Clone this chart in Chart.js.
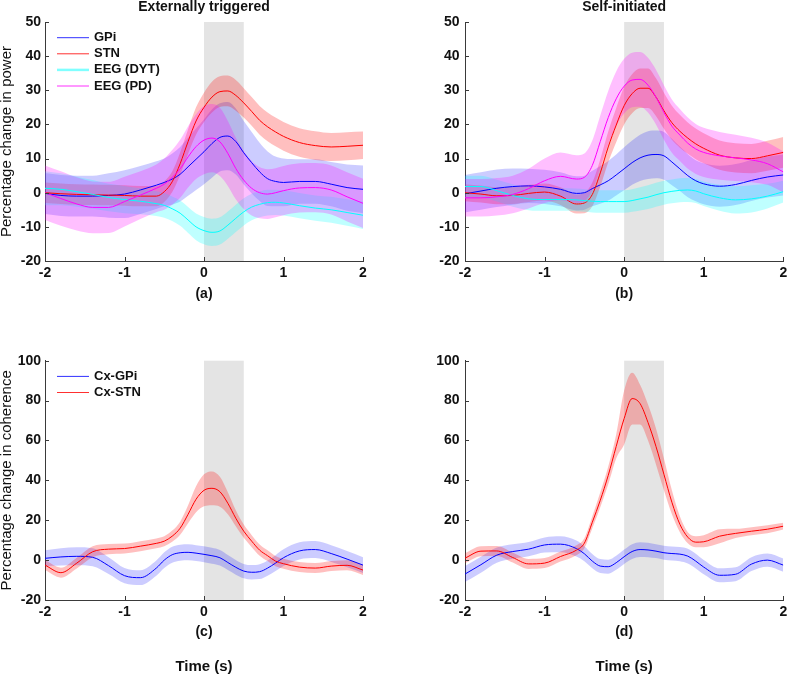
<!DOCTYPE html>
<html><head><meta charset="utf-8">
<script src="https://cdn.jsdelivr.net/npm/chart.js@4.4.0/dist/chart.umd.min.js"></script>
<style>
html,body{margin:0;padding:0;background:#fff;overflow:hidden;width:787px;height:677px;}
canvas{position:absolute;}
</style></head><body>
<canvas id="ca" width="390" height="320" style="left:0;top:0"></canvas>
<canvas id="cb" width="397" height="320" style="left:390px;top:0"></canvas>
<canvas id="cc" width="390" height="357" style="left:0;top:320px"></canvas>
<canvas id="cd" width="397" height="357" style="left:390px;top:320px"></canvas>
<script>
// ---- shared time base (s) ----
const time = [-2,-1.8,-1.6,-1.4,-1.2,-1,-0.8,-0.6,-0.5,-0.4,-0.3,-0.2,-0.1,0,0.1,0.2,0.3,0.4,0.5,0.6,0.7,0.8,0.9,1,1.2,1.4,1.6,1.8,2];
const cueStart = 0, cueEnd = 0.5;
const xTicks = [-2,-1,0,1,2];
const panelTitles = ['Externally triggered','Self-initiated'];
const panelLetters = ['(a)','(b)','(c)','(d)'];
const powerLabels = ['GPi','STN','EEG (DYT)','EEG (PD)'];
const cohLabels = ['Cx-GPi','Cx-STN'];

// ---- (a) Externally triggered, power ----
const aGPiMean  = [-0.2,-0.8,-1.0,-1.0,-0.8,-0.4,0.8,2.2,3.0,4.0,5.4,7.6,9.8,12,14.4,16.2,16.6,15,11.7,8.8,6.1,4.1,3.3,3.0,3.3,3.3,2.5,1.5,1.0];
const aGPiUpper = [5.8,5.2,5.0,5.0,5.7,6.6,7.8,9.2,10,11.5,13.4,16.1,18.8,21.5,24.4,26.2,26.6,24.7,21,17.8,14.6,12.1,10.6,10,9.8,9.8,9,8.3,8];
const aGPiLower = [-6.2,-6.8,-7,-7,-7.3,-7.4,-6.2,-4.8,-4,-3.5,-2.6,-0.9,0.8,2.5,4.4,6.2,6.6,5.3,2.4,-0.2,-2.4,-3.9,-4,-4,-3.2,-3.2,-4,-5.3,-6];
const aSTNMean  = [0,-0.3,-0.5,-0.6,-0.7,-0.8,-1.0,-1.0,0.3,3.2,8.5,15,21,25,28,29.6,29.8,28.5,26.3,23.8,21.2,19.3,17.8,16.5,14.7,13.8,13.4,13.6,13.9];
const aSTNUpper = [3,2.7,2.5,2.4,2.3,2.2,2,2,3.3,6.2,11.8,18.6,25,29.3,32.5,34.1,34.3,33,30.6,28,25.4,23.5,22,20.7,18.9,18,17.5,17.7,17.9];
const aSTNLower = [-3,-3.3,-3.5,-3.6,-3.7,-3.8,-4,-4,-2.7,0.2,5.2,11.4,17,20.7,23.5,25.1,25.3,24,22,19.6,17,15.1,13.6,12.3,10.5,9.6,9.3,9.5,9.9];
const aDYTMean  = [1.3,1,0.3,-0.5,-1.4,-2,-2.5,-3.2,-3.7,-4.7,-6,-8,-10,-11.1,-11.6,-11.2,-9.5,-7.5,-5.6,-4.2,-3.4,-2.9,-2.8,-3.0,-3.8,-4.5,-5,-5.8,-6.6];
const aDYTUpper = [6.3,5.7,4.7,3.7,2.6,2,1.3,0.4,-0.1,-1.1,-2.3,-4.2,-6.1,-7.1,-7.6,-7.2,-5.5,-3.5,-1.6,-0.3,0.4,0.9,0.9,0.7,-0.1,-0.8,-1.2,-1.9,-2.6];
const aDYTLower = [-3.7,-3.7,-4.1,-4.7,-5.4,-6,-6.3,-6.8,-7.3,-8.3,-9.7,-11.8,-13.9,-15.1,-15.6,-15.2,-13.5,-11.5,-9.6,-8.1,-7.2,-6.7,-6.5,-6.7,-7.5,-8.2,-8.8,-9.7,-10.6];
const aPDMean   = [0,-1.7,-3.3,-4.3,-4.3,-2.6,-0.7,1.3,2.5,4.5,7,10.5,13.5,15.4,16,14.9,11.5,7.1,3.7,1.3,0,-0.4,0,0.6,1.4,1.5,0.8,-1.2,-3.1];
const aPDUpper  = [8,6.3,4.5,3.3,3.2,4.7,6.3,8.3,10,12.5,15.5,19.5,23,25.4,26,24.9,21,16.1,12.2,9.3,7.5,6.9,7.2,7.8,8.6,8.7,8,6,4.1];
const aPDLower  = [-8,-9.7,-11.1,-11.9,-11.8,-9.9,-7.7,-5.7,-5,-3.5,-1.5,1.5,4,5.4,6,4.9,2,-1.9,-4.8,-6.7,-7.5,-7.7,-7.2,-6.6,-5.8,-5.7,-6.4,-8.4,-10.3];

// ---- (b) Self-initiated, power ----
const bGPiMean  = [-0.3,0.5,1.3,1.8,2.0,1.7,1.0,-0.2,0,1.2,2.3,3.5,5.2,7,8.8,10.2,11,11.2,10.8,9,7,5,3.5,2.6,1.9,2.4,3.6,4.6,5.2];
const bGPiUpper = [5.2,6,6.8,7.1,7,6.7,6,4.8,5,6.4,7.8,9.3,11.2,13.3,15.3,17,18,18.2,17.8,15.8,13.5,11.3,9.5,8.6,7.9,8.4,9.6,10.6,11.2];
const bGPiLower = [-5.8,-5,-4.2,-3.5,-3,-3.3,-4,-5.2,-5,-4,-3.2,-2.3,-0.8,0.7,2.3,3.4,4,4.2,3.8,2.2,0.5,-1.3,-2.5,-3.4,-4.1,-3.6,-2.4,-1.4,-0.8];
const bSTNMean  = [0,-0.4,-0.9,-0.8,-0.2,0.2,-1.0,-3.3,-3.0,-0.5,5.8,13.4,19.8,25.5,29,30.6,30.6,28,24,20.5,18,16,14.3,13,11,10.2,10,10.8,11.8];
const bSTNUpper = [2.5,2.1,1.6,1.7,2.3,2.7,1.6,-0.5,0,3,9.8,17.9,24.8,31,34.7,36.4,36.4,33.5,29.3,25.5,22.8,20.6,18.8,17.4,15.3,14.5,14.3,15.2,16.3];
const bSTNLower = [-2.5,-2.9,-3.4,-3.3,-2.7,-2.3,-3.6,-6.1,-6,-4,1.8,8.9,14.8,20,23.3,24.8,24.8,22.5,18.7,15.5,13.2,11.4,9.8,8.6,6.7,5.9,5.7,6.4,7.3];
const bDYTMean  = [1.8,1.8,0.6,-0.8,-1.8,-2,-2,-2.1,-2.3,-2.5,-2.6,-2.6,-2.6,-2.6,-2.3,-1.8,-1.3,-0.6,0,0.4,0.7,0.8,0.5,-0.3,-1.5,-2.1,-1.8,-1,0.3];
const bDYTUpper = [5,5,3.8,2.5,1.5,1.3,1.3,1.2,1,0.8,0.7,0.7,0.7,0.7,1,1.6,2.2,2.9,3.5,3.9,4.2,4.3,4,3.3,2.3,1.9,2.2,2.6,3.5];
const bDYTLower = [-1.4,-1.4,-2.6,-4.1,-5.1,-5.3,-5.3,-5.4,-5.6,-5.8,-5.9,-5.9,-5.9,-5.9,-5.6,-5.2,-4.8,-4.1,-3.5,-3.1,-2.8,-2.7,-3,-3.9,-5.3,-6.1,-5.8,-4.6,-2.9];
const bPDMean   = [-1.5,-1.5,-1.2,-0.5,1.2,3.5,4.8,4.0,4.5,8,15,22,27.5,31.2,33,33.2,31.5,28,23.5,19.5,16.9,14.5,12.8,11.8,10.8,10.2,9.6,8.5,6.1];
const bPDUpper  = [4,4,4.3,5,7,10,11.8,11,11.5,15.3,22.6,29.8,35.5,39.2,41,41.2,39.5,36,31.5,27.3,24.5,22,20.1,19,17.8,17,16.1,14.7,12.1];
const bPDLower  = [-7,-7,-6.7,-6,-4.6,-3,-2.2,-3,-2.5,0.7,7.4,14.2,19.5,23.2,25,25.2,23.5,20,15.5,11.7,9.3,7,5.5,4.6,3.8,3.4,3.1,2.3,0.1];

// ---- (c) Externally triggered, coherence ----
const cGPiMean  = [0.9,1.6,1.9,1.4,-2.8,-7.8,-8.8,-4,0,2.7,3.7,3.9,3.5,2.9,2.2,1.2,-1.2,-3.6,-5.5,-6.1,-5.8,-4,-1.5,1.2,4.6,5.3,3.3,0.5,-2.5];
const cGPiUpper = [4.9,5.9,6.4,5.9,1.4,-4,-5.1,-0.2,3.9,6.7,7.7,7.9,7.5,6.9,6.2,5.1,2.6,0.1,-1.9,-2.5,-2.1,-0.2,2.5,5.4,8.9,9.6,7.5,4.6,1.5];
const cGPiLower = [-3.1,-2.7,-2.6,-3.1,-7,-11.6,-12.5,-7.8,-3.9,-1.3,-0.3,-0.1,-0.5,-1.1,-1.8,-2.7,-5,-7.3,-9.1,-9.7,-9.5,-7.8,-5.5,-3,0.3,1,-0.9,-3.6,-6.5];
const cSTNMean  = [-2.5,-6.3,-1.5,4.2,5.5,5.8,7,8.4,9.5,12,16,23,30.5,35,36,34.3,28.5,21,14.5,9.5,5,2.2,-0.5,-1.8,-3.5,-4,-3,-2.6,-5];
const cSTNUpper = [0,-3.8,1.2,7,8.1,8.3,9.5,10.9,12,14.8,19.3,27.5,37,43,44.5,41.8,34,25,17.8,12.5,7.8,4.9,2.1,0.7,-1,-1.5,-0.5,-0.1,-2.5];
const cSTNLower = [-5,-8.8,-4.2,1.4,2.9,3.3,4.5,5.9,7,9.2,12.7,18.5,24,27,27.5,26.8,23,17,11.2,6.5,2.2,-0.5,-3.1,-4.3,-6,-6.5,-5.5,-5.1,-7.5];

// ---- (d) Self-initiated, coherence ----
const dGPiMean  = [-7,-2.3,2.5,4.3,5.5,7.6,8,5.8,3.2,-0.5,-3,-3.3,-1.3,1.7,4.3,5.3,5.1,4.5,3.7,3.3,3,2,-0.5,-3.5,-7.6,-7.1,-2,0,-2.5];
const dGPiUpper = [-3,1.7,6.3,7.9,9.1,11.4,12,9.8,7,3.1,0.5,0.2,2.2,5.3,8,9,8.7,8,7.2,6.8,6.6,5.7,3.2,0.1,-4.1,-3.6,1.5,3.3,0.8];
const dGPiLower = [-11,-6.3,-1.3,0.7,1.9,3.8,4,1.8,-0.6,-4.1,-6.5,-6.8,-4.8,-1.9,0.6,1.6,1.5,1,0.2,-0.2,-0.6,-1.7,-4.2,-7.1,-11.1,-10.6,-5.5,-3.3,-5.8];
const dSTNMean  = [1,4.5,4.6,1.3,-1.9,-1.5,1.8,5,8.5,19,30,42.5,57,71,81,78.5,69,57,43,29,18,11.5,9,9.2,12,13.4,14.5,15.5,17];
const dSTNUpper = [3.5,7,7.1,3.8,0.6,1,4.3,7.5,11,22,34,47,63,85,94,88,78,66,51,35,22,14,12,12.5,15.5,15.7,16.5,17.5,18.7];
const dSTNLower = [-1.5,2,2.1,-1.2,-4.4,-4,-0.7,2.5,6,16,26.5,38,51,58,68,68,60,48,35,23,14,8.5,6.5,6.5,8.5,11.1,12.5,13.5,15.3];

// ---- styling ----
const FONT = "'Liberation Sans', Arial, Helvetica, sans-serif";
Chart.defaults.font.family = FONT;
Chart.defaults.color = '#111';
const AXIS = '#3a3a3a';
const COL = {
  gpi: {line:'#0000ff', band:'rgba(0,0,255,0.2)', legend:'#3030ff'},
  stn: {line:'#ff0000', band:'rgba(255,0,0,0.25)', legend:'#ff3030'},
  dyt: {line:'#00ffff', band:'rgba(0,255,255,0.25)', legend:'#80ffff'},
  pd:  {line:'#ff00ff', band:'rgba(255,0,255,0.25)', legend:'#ff30ff'}
};

function pts(arr){ return time.map((t,i)=>({x:t, y:arr[i]})); }

const shadePlugin = {
  id:'shade',
  beforeDraw(chart){
    const {ctx, chartArea:a, scales:{x}} = chart;
    const x0 = x.getPixelForValue(cueStart), x1 = x.getPixelForValue(cueEnd);
    ctx.save(); ctx.fillStyle = '#e4e4e4';
    ctx.fillRect(x0, a.top, x1 - x0, a.bottom - a.top);
    ctx.restore();
  }
};
const tickPlugin = {
  id:'inTicks',
  afterDraw(chart){
    const {ctx, chartArea:a, scales:{x,y}} = chart;
    ctx.save(); ctx.strokeStyle = AXIS; ctx.lineWidth = 1; ctx.beginPath();
    x.ticks.forEach(t=>{ const px = Math.round(x.getPixelForValue(t.value)) + 0.5; ctx.moveTo(px, a.bottom); ctx.lineTo(px, a.bottom - 4); });
    y.ticks.forEach(t=>{ const py = Math.round(y.getPixelForValue(t.value)) + 0.5; ctx.moveTo(a.left, py); ctx.lineTo(a.left + 4, py); });
    ctx.stroke(); ctx.restore();
  }
};
const legendPlugin = {
  id:'lineLegend',
  afterDraw(chart, args, opts){
    if (!opts.show) return;
    const {ctx, chartArea:a} = chart;
    ctx.save(); ctx.font = 'bold 13px ' + FONT; ctx.textBaseline = 'middle'; ctx.fillStyle = '#111';
    let k = 0;
    chart.data.datasets.forEach(ds=>{
      if (!ds.inLegend) return;
      const y = a.top + opts.top + k * opts.step, x0 = a.left + opts.left;
      ctx.strokeStyle = ds.legendColor || ds.borderColor; ctx.lineWidth = ds.legendWidth || 1;
      ctx.beginPath(); ctx.moveTo(x0, y); ctx.lineTo(x0 + opts.len, y); ctx.stroke();
      ctx.fillText(ds.label, x0 + opts.len + opts.gap, y);
      k++;
    });
    ctx.restore();
  }
};

function makePanel(id, o){
  const n = o.series.length;
  const datasets = [];
  o.series.forEach((s,k)=>{
    datasets.push({label: s.label + ' upper', data: pts(s.upper), borderColor:'rgba(0,0,0,0)', borderWidth:0,
      backgroundColor: s.c.band, fill:'+1', pointRadius:0, pointHoverRadius:0, cubicInterpolationMode:'monotone', order: 10 + n - k});
    datasets.push({label: s.label + ' lower', data: pts(s.lower), borderColor:'rgba(0,0,0,0)', borderWidth:0,
      fill:false, pointRadius:0, pointHoverRadius:0, cubicInterpolationMode:'monotone', order: 10 + n - k});
  });
  o.series.forEach((s,k)=>{
    datasets.push({label: s.label, data: pts(s.mean), borderColor: s.c.line, borderWidth:1, fill:false,
      pointRadius:0, pointHoverRadius:0, cubicInterpolationMode:'monotone', order: n - k,
      inLegend:true, legendWidth: s.lw || 1, legendColor: s.c.legend});
  });
  return new Chart(document.getElementById(id), {
    type:'line',
    data:{datasets},
    options:{
      responsive:false, animation:false, events:[],
      layout:{padding:o.pad, autoPadding:false},
      plugins:{
        legend:{display:false}, tooltip:{enabled:false},
        filler:{drawTime:'beforeDatasetsDraw'},
        title:{display:!!o.title, text:o.title||'', fullSize:false, color:'#111',
          font:{size:14, weight:'bold', lineHeight:1.0}, padding:{top:0.5, bottom:7.5}},
        subtitle:{display:!!o.sub, text:o.sub||'', position:'bottom', fullSize:false, color:'#111',
          font:{size:15, weight:'bold', lineHeight:1.2}, padding:{top:0, bottom:1}},
        lineLegend:{show:!!o.legend, left:12, top:15.7, step:16.1, len:32, gap:5}
      },
      scales:{
        x:{type:'linear', min:-2, max:2,
          afterBuildTicks:(s)=>{ s.ticks = xTicks.map(v=>({value:v})); },
          ticks:{padding:3.6, color:'#111', font:{size:14, weight:'bold'}, maxRotation:0, autoSkip:false},
          grid:{display:false, drawTicks:false},
          border:{display:true, color:AXIS, width:1},
          title:{display:true, text:o.letter, color:'#111', font:{size:14, weight:'bold', lineHeight:1.2}, padding:{top:0, bottom:17.1}},
          afterFit:(s)=>{ s.height = o.xH; s.paddingLeft = 0; s.paddingRight = 0; }
        },
        y:{type:'linear', min:o.yMin, max:o.yMax,
          ticks:{stepSize:o.yStep, padding:o.yPad, color:'#111', font:{size:14, weight:'bold'}},
          grid:{display:false, drawTicks:false},
          border:{display:true, color:AXIS, width:1},
          title:{display:!!o.yTitle, text:o.yTitle||'', color:'#111', font:{size:15, weight:'normal', lineHeight:0.9}, padding:{top:0, bottom:0}},
          afterFit:(s)=>{ s.width = o.yW; s.paddingTop = 0; s.paddingBottom = 0; }
        }
      }
    },
    plugins:[shadePlugin, tickPlugin, legendPlugin]
  });
}

const powerSeries = (g, s, d, p) => [
  {label:powerLabels[0], c:COL.gpi, mean:g[0], upper:g[1], lower:g[2]},
  {label:powerLabels[1], c:COL.stn, mean:s[0], upper:s[1], lower:s[2]},
  {label:powerLabels[2], c:COL.dyt, mean:d[0], upper:d[1], lower:d[2], lw:2.5},
  {label:powerLabels[3], c:COL.pd,  mean:p[0], upper:p[1], lower:p[2]}
];
const cohSeries = (g, s) => [
  {label:cohLabels[0], c:COL.gpi, mean:g[0], upper:g[1], lower:g[2]},
  {label:cohLabels[1], c:COL.stn, mean:s[0], upper:s[1], lower:s[2]}
];

makePanel('ca', {
  series: powerSeries([aGPiMean,aGPiUpper,aGPiLower],[aSTNMean,aSTNUpper,aSTNLower],[aDYTMean,aDYTUpper,aDYTLower],[aPDMean,aPDUpper,aPDLower]),
  title: panelTitles[0], letter: panelLetters[0], yTitle:'Percentage change in power', legend:true,
  yMin:-20, yMax:50, yStep:10, yPad:4, yW:45, xH:59, pad:{top:0,left:0,right:27,bottom:0}
});
makePanel('cb', {
  series: powerSeries([bGPiMean,bGPiUpper,bGPiLower],[bSTNMean,bSTNUpper,bSTNLower],[bDYTMean,bDYTUpper,bDYTLower],[bPDMean,bPDUpper,bPDLower]),
  title: panelTitles[1], letter: panelLetters[1], legend:false,
  yMin:-20, yMax:50, yStep:10, yPad:5.5, yW:75, xH:59, pad:{top:0,left:0,right:3.7,bottom:0}
});
makePanel('cc', {
  series: cohSeries([cGPiMean,cGPiUpper,cGPiLower],[cSTNMean,cSTNUpper,cSTNLower]),
  letter: panelLetters[2], sub:'Time (s)', yTitle:'Percentage change in coherence', legend:true,
  yMin:-20, yMax:100, yStep:20, yPad:4, yW:45, xH:58, pad:{top:40.7,left:0,right:27,bottom:0}
});
makePanel('cd', {
  series: cohSeries([dGPiMean,dGPiUpper,dGPiLower],[dSTNMean,dSTNUpper,dSTNLower]),
  letter: panelLetters[3], sub:'Time (s)', legend:false,
  yMin:-20, yMax:100, yStep:20, yPad:5.5, yW:75, xH:58, pad:{top:40.7,left:0,right:3.7,bottom:0}
});
</script>
</body></html>
